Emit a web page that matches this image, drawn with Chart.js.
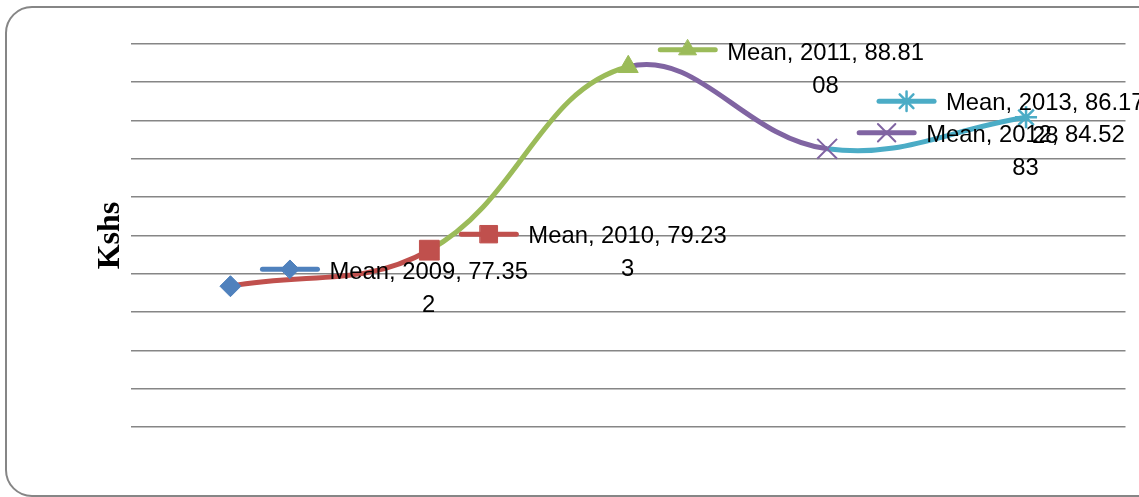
<!DOCTYPE html>
<html>
<head>
<meta charset="utf-8">
<script src="https://cdn.jsdelivr.net/npm/chart.js@4"></script>
<style>
  html, body { margin: 0; padding: 0; background: #fff; }
  #wrap { width: 1139px; height: 497px; position: relative; }
</style>
</head>
<body>
<div id="wrap"><canvas id="chart"></canvas></div>
<script>
// Yearly mean (Kshs)
const seriesName = 'Mean';
const years = ['2009', '2010', '2011', '2012', '2013'];
const meanValues = [77.352, 79.233, 88.8108, 84.5283, 86.1728];
const yMin = 70;
const yMax = 90;
const yStep = 2;

// Per-point styling (Office palette, one colour per year)
const pointColors = ['#4F81BD', '#C0504D', '#9BBB59', '#8064A2', '#4BACC6'];
const pointStyles = ['rectRot', 'rect', 'triangle', 'crossRot', 'star'];
const pointRadii = [10.5, 14, 11.5, 14, 11];
const pointBorders = [1, 1, 1, 2, 2.5];

// Data-label placement relative to each point
const labelKeyDx = [32, 32, 32, 32, -147];
const labelKeyDy = [-17, -16, -17, -16, -16];

const FRAME = { x: 6, y: 7, w: 1160, h: 489, r: 26 };
const LABEL_FONT = '23.8px "Liberation Sans", Arial, sans-serif';
const WRAP_CHARS = 17;

function wrapLabel(text) {
  const lines = [];
  for (let i = 0; i < text.length; i += WRAP_CHARS) lines.push(text.slice(i, i + WRAP_CHARS));
  return lines;
}

const framePlugin = {
  id: 'frame',
  beforeDraw(chart) {
    const ctx = chart.ctx;
    ctx.save();
    ctx.fillStyle = '#ffffff';
    ctx.fillRect(0, 0, chart.width, chart.height);
    ctx.beginPath();
    ctx.roundRect(FRAME.x, FRAME.y, FRAME.w, FRAME.h, FRAME.r);
    ctx.strokeStyle = '#868686';
    ctx.lineWidth = 2;
    ctx.stroke();
    ctx.restore();
  }
};

const dataLabelPlugin = {
  id: 'meanLabels',
  afterDatasetsDraw(chart) {
    const ctx = chart.ctx;
    const meta = chart.getDatasetMeta(0);
    ctx.save();
    meta.data.forEach((pt, i) => {
      const color = pointColors[i];
      const kx = pt.x + labelKeyDx[i];
      const ky = pt.y + labelKeyDy[i];
      // legend key: short line with the point's marker
      ctx.beginPath();
      ctx.moveTo(kx, ky);
      ctx.lineTo(kx + 55, ky);
      ctx.strokeStyle = color;
      ctx.lineWidth = 5;
      ctx.lineCap = 'round';
      ctx.stroke();
      ctx.fillStyle = color;
      ctx.strokeStyle = color;
      ctx.lineWidth = pointBorders[i];
      Chart.helpers.drawPoint(ctx, {
        pointStyle: pointStyles[i],
        radius: pointRadii[i] * 0.88,
        borderWidth: pointBorders[i],
        rotation: 0
      }, kx + 27.5, ky);
      // label text
      const text = seriesName + ', ' + years[i] + ', ' + meanValues[i];
      const lines = wrapLabel(text);
      ctx.font = LABEL_FONT;
      ctx.fillStyle = '#000000';
      ctx.textBaseline = 'alphabetic';
      const tx = kx + 67;
      const w1 = ctx.measureText(lines[0]).width;
      const cx = tx + w1 / 2;
      ctx.textAlign = 'center';
      lines.forEach((ln, j) => {
        ctx.fillText(ln, cx, pt.y - 7 + j * 33);
      });
    });
    ctx.restore();
  }
};

new Chart(document.getElementById('chart'), {
  type: 'line',
  data: {
    labels: years,
    datasets: [{
      label: seriesName,
      data: meanValues,
      borderWidth: 5,
      tension: 0.4,
      fill: false,
      borderColor: pointColors[0],
      segment: {
        borderColor: ctx => pointColors[ctx.p1DataIndex]
      },
      pointStyle: pointStyles,
      pointRadius: pointRadii,
      pointBackgroundColor: pointColors,
      pointBorderColor: pointColors,
      pointBorderWidth: pointBorders,
      pointHoverRadius: pointRadii
    }]
  },
  options: {
    responsive: true,
    maintainAspectRatio: false,
    animation: false,
    events: [],
    layout: { padding: { left: 84.6, right: 11, top: 44, bottom: 70 } },
    plugins: {
      legend: { display: false },
      tooltip: { enabled: false }
    },
    scales: {
      x: {
        type: 'category',
        display: false,
        offset: true
      },
      y: {
        min: yMin,
        max: yMax,
        ticks: { display: false, stepSize: yStep },
        grid: { color: '#868686', lineWidth: 1.6, drawTicks: false },
        border: { display: false },
        title: {
          display: true,
          text: 'Kshs',
          color: '#000000',
          font: { family: '"Liberation Serif", "Times New Roman", serif', size: 32, weight: 'bold' },
          padding: { top: 7, bottom: 1 }
        }
      }
    }
  },
  plugins: [framePlugin, dataLabelPlugin]
});
</script>
</body>
</html>
